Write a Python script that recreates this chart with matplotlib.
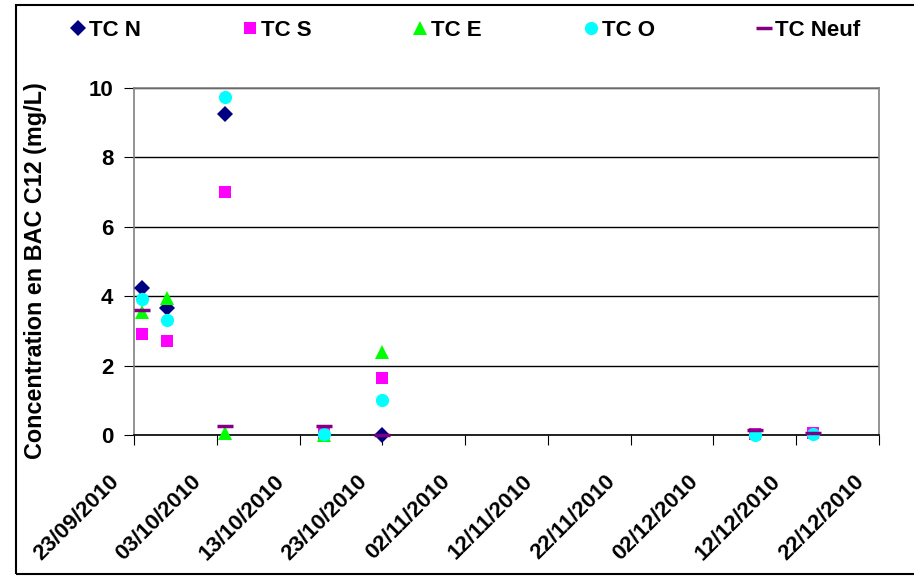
import datetime as dt

import matplotlib
matplotlib.use("Agg")
import matplotlib.dates as mdates
import matplotlib.pyplot as plt
import matplotlib.transforms as mtransforms
from matplotlib.patches import Rectangle

plt.rcParams["font.family"] = ["Liberation Sans", "DejaVu Sans"]
plt.rcParams["font.weight"] = "bold"


def d(s):
    return dt.datetime.strptime(s, "%d/%m/%Y")


# values (mg/L)
tcn_dates = ["24/09/2010", "27/09/2010", "04/10/2010", "23/10/2010"]
tcn_vals = [4.25, 3.65, 9.25, 0.0]
tcs_dates = ["24/09/2010", "27/09/2010", "04/10/2010", "16/10/2010", "23/10/2010", "07/12/2010", "14/12/2010"]
tcs_vals = [2.9, 2.7, 7.0, 0.05, 1.65, 0.02, 0.07]
tce_dates = ["24/09/2010", "27/09/2010", "04/10/2010", "16/10/2010", "23/10/2010"]
tce_vals = [3.55, 3.95, 0.05, 0.0, 2.4]
tco_dates = ["24/09/2010", "27/09/2010", "04/10/2010", "16/10/2010", "23/10/2010", "07/12/2010", "14/12/2010"]
tco_vals = [3.92, 3.3, 9.75, 0.02, 1.0, 0.0, 0.03]
neuf_dates = ["24/09/2010", "04/10/2010", "16/10/2010", "23/10/2010", "07/12/2010", "14/12/2010"]
neuf_vals = [3.6, 0.25, 0.27, 0.0, 0.15, 0.05]

series = [
    ("TC N", tcn_dates, tcn_vals, dict(marker="D", color="#000080", ms=8.5)),
    ("TC S", tcs_dates, tcs_vals, dict(marker="s", color="#FF00FF", ms=9)),
    ("TC E", tce_dates, tce_vals, dict(marker="^", color="#00FF00", ms=10.5)),
    ("TC O", tco_dates, tco_vals, dict(marker="o", color="#00FFFF", ms=9.5)),
    ("TC Neuf", neuf_dates, neuf_vals, dict(marker="_", color="#800080", ms=12, mew=2.5)),
]

fig = plt.figure(figsize=(9.14, 5.77), dpi=100)
ax = fig.add_axes([134 / 914, 142 / 577, 745 / 914, 347 / 577])

for label, dates, vals, st in series:
    ax.plot([d(s) for s in dates], vals, ls="none", label=label,
            markeredgewidth=st.pop("mew", 0), **st, clip_on=False, zorder=3)

ax.set_ylim(0, 10)
ax.set_yticks([0, 2, 4, 6, 8, 10])
ax.set_xlim(d("23/09/2010"), d("22/12/2010"))
ticks = [d("23/09/2010") + dt.timedelta(days=10 * i) for i in range(10)]
ax.set_xticks(ticks)
ax.xaxis.set_major_formatter(mdates.DateFormatter("%d/%m/%Y"))
ax.grid(axis="y", color="black", lw=1)
ax.set_axisbelow(True)
for sp in ax.spines.values():
    sp.set_color("#808080")
    sp.set_linewidth(1.2)
ax.spines["bottom"].set_color("black")
ax.tick_params(axis="both", direction="out", length=7, color="black", labelsize=16)
ax.tick_params(axis="y", pad=8)
# Excel puts the slanted dates a bit lower and left of the tick
shift = mtransforms.ScaledTranslation(-11 / 100, -21 / 100, fig.dpi_scale_trans)
for lab in ax.get_xticklabels():
    lab.set_rotation(45)
    lab.set_ha("right")
    lab.set_va("top")
    lab.set_fontweight("bold")
    lab.set_transform(lab.get_transform() + shift)
plt.setp(ax.get_yticklabels(), fontweight="bold")
ax.set_ylabel("Concentration en BAC C12 (mg/L)", fontsize=16.8, fontweight="bold")
ax.yaxis.set_label_coords((47 - 134) / 745, (435 - 271) / 347)

fig.legend(loc="center left", bbox_to_anchor=(51 / 914, 1 - 30 / 577), ncol=5, frameon=False,
           prop={"size": 16, "weight": "bold"}, handletextpad=0.2, columnspacing=4.6,
           handlelength=0.6, markerscale=1.0)

fig.add_artist(Rectangle((16 / 914, 3 / 577), 920 / 914, 569 / 577, transform=fig.transFigure,
                         fill=False, edgecolor="black", lw=1.5))

fig.savefig("out.png", dpi=100)
